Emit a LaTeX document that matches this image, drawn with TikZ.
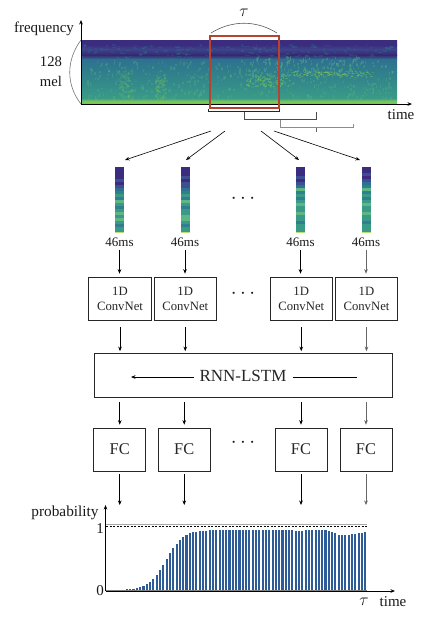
\documentclass[tikz,border=0pt]{standalone}
\usepackage{fontspec}
\setmainfont{Liberation Serif}
\usetikzlibrary{arrows.meta}
\definecolor{vp}{HTML}{3B2C7F}
\definecolor{vb}{HTML}{3D4F90}
\definecolor{vt}{HTML}{2F7F8C}
\definecolor{vg}{HTML}{3A9A88}
\definecolor{vl}{HTML}{5FB583}
\definecolor{vy}{HTML}{BCDC78}
\definecolor{tb}{HTML}{2E7090}
\definecolor{brt}{HTML}{78C655}
\definecolor{redbox}{HTML}{B5432F}
\definecolor{barc}{HTML}{2E5C99}
\newcommand{\fs}[1]{\fontsize{#1}{#1}\selectfont}
\tikzset{
  x=1pt,y=-1pt,
  arr/.style={-{Stealth[length=4.5pt,width=3.6pt]},line width=0.6pt,black},
  arrg/.style={arr,black!60},
  netbox/.style={draw,line width=0.7pt,black!85,inner sep=0pt,text=black!85,align=center},
  conv/.style={netbox,minimum width=62.5pt,minimum height=43.5pt,font=\fs{12.7}},
  fcbox/.style={netbox,minimum width=52pt,minimum height=43pt,font=\fs{16.4}},
  lab/.style={inner sep=0pt,text=black!90},
  ms/.style={lab,font=\fs{13}},
  dots/.style={lab,font=\fs{20}},
  stripcell/.style={minimum width=9pt,minimum height=66pt,inner sep=0pt},
}
\newcommand{\strip}[3]{% x, name, colours
  \node[stripcell] (#2) at (#1,200) {};
  \foreach \c [count=\i from 0] in {#3} {
    \fill[\c] (#1-4.5,167+3*\i) rectangle (#1+4.5,170.3+3*\i);
  }
}
\begin{document}
\begin{tikzpicture}
\useasboundingbox (0,0) rectangle (439,625);
\fill[white] (0,0) rectangle (439,625);

% spectrogram
\shade[top color=vp,bottom color=vp] (81,40) rectangle (397,45.2);
\shade[top color=vp,bottom color=vb!70!vp] (81,45) rectangle (397,49.2);
\shade[top color=vb!70!vp,bottom color=vp!90!black] (81,49) rectangle (397,55.2);
\shade[top color=vp!90!black,bottom color=tb] (81,55) rectangle (397,59.2);
\shade[top color=tb,bottom color=vt] (81,59) rectangle (397,72.2);
\shade[top color=vt,bottom color=vg] (81,72) rectangle (397,98.2);
\shade[top color=vg,bottom color=brt] (81,98) rectangle (397,101.2);
\fill[brt] (81,101) rectangle (397,104);
\pgfmathsetseed{11}
\foreach \n in {1,...,170} {
  \pgfmathsetmacro{\xa}{81+rnd*312}
  \pgfmathsetmacro{\ya}{44+rnd*14}
  \fill[vt,opacity=0.25] (\xa,\ya) rectangle ++(1.5+rnd*3,1.5);
}
\foreach \n in {1,...,420} {
  \pgfmathsetmacro{\xa}{84+rnd*309}
  \pgfmathsetmacro{\ya}{60+rnd*38}
  \fill[vl,opacity=0.28] (\xa,\ya) rectangle ++(1.5,1.5+rnd*2);
}
\foreach \n in {1,...,70} {
  \pgfmathsetmacro{\xa}{118+rnd*14}
  \pgfmathsetmacro{\ya}{70+rnd*28}
  \fill[brt,opacity=0.18] (\xa,\ya) rectangle ++(2,2);
  \pgfmathsetmacro{\xb}{155+rnd*10}
  \pgfmathsetmacro{\yb}{74+rnd*24}
  \fill[brt,opacity=0.18] (\xb,\yb) rectangle ++(2,2);
}
\foreach \n in {1,...,130} {
  \pgfmathsetmacro{\xa}{248+rnd*115}
  \pgfmathsetmacro{\ya}{56+rnd*18}
  \fill[vl,opacity=0.35] (\xa,\ya) rectangle ++(1.5,1.5+rnd*2);
  \pgfmathsetmacro{\xb}{245+rnd*45}
  \pgfmathsetmacro{\yb}{74+rnd*12}
  \fill[brt,opacity=0.35] (\xb,\yb) rectangle ++(1.5,1.5);
  \pgfmathsetmacro{\xc}{292+rnd*80}
  \pgfmathsetmacro{\yc}{71+rnd*6}
  \fill[brt!70!yellow,opacity=0.25] (\xc,\yc) rectangle ++(2,1);
}

% axes of the spectrogram
\coordinate (sorig) at (81,104);
\coordinate (sy) at (81,20);
\coordinate (sx) at (412,104);
\draw[arr,line width=0.9pt] (sorig) -- (sy);
\draw[arr,line width=0.9pt] (sorig) -- (sx);
\node[lab,font=\fs{15}] (freq) at (44,29) {frequency};
\node[lab,font=\fs{14.7}] (n128) at (51,62) {128};
\node[lab,font=\fs{14.7}] (mel) at (51,81) {mel};
\node[lab,font=\fs{15}] (time1) at (401,115) {time};
\coordinate (pa) at (81,40);
\draw[black!55,line width=0.6pt] (pa) .. controls (66,60) and (66,85) .. (sorig);

% window
\node[draw=redbox,line width=2pt,minimum width=69.5pt,minimum height=72pt,inner sep=0pt] (win) at (244.25,72) {};
\node[lab,font=\fs{17}] (tau1) at (244,13) {$\tau$};
\coordinate (ta) at (211,33);
\coordinate (tb) at (277,33);
\draw[black!65,line width=0.6pt] (ta) .. controls (232,20) and (256,20) .. (tb);

% hop brackets
\coordinate (b1a) at (208,109);
\coordinate (b1b) at (279,109);
\draw[black!85,line width=0.6pt] (b1a) -- ++(0,2.5) -- (279,111.5) -- (b1b);
\coordinate (b2a) at (244,112);
\coordinate (b2b) at (316,112);
\draw[black!70,line width=0.6pt] (b2a) -- (244,119.5) -- (316,119.5) -- (b2b);
\coordinate (b3a) at (280,120);
\coordinate (b3b) at (353,124);
\draw[black!45,line width=0.6pt] (b3a) -- (280,127.5) -- (353,127.5) -- (b3b);
\coordinate (b3c) at (316,127.5);
\draw[black!60,line width=0.6pt] (b3c) -- ++(0,4);

% fan-out arrows
\coordinate (fa) at (211,131); \coordinate (fA) at (125,160);
\coordinate (fb) at (225,131); \coordinate (fB) at (186,160);
\coordinate (fc) at (261,131); \coordinate (fC) at (299,160);
\coordinate (fd) at (274,131); \coordinate (fD) at (360,160);
\draw[arr] (fa) -- (fA);
\draw[arr] (fb) -- (fB);
\draw[arr] (fc) -- (fC);
\draw[arr] (fd) -- (fD);

% spectrogram slices
\strip{119.5}{s1}{vp,vp,vp,vp,vb,vp,vb,tb,vt,vg,vt,vl,vg,vt,vg,vl,vg,vl,vg,vt,vg,vg}
\strip{185}{s2}{vp,vp,vp,vb,vp,vb,vb,tb,vt,vg,vt,vl,vg,vt,vg,vg,vl,vl,vg,vt,vg,vg}
\strip{300.5}{s3}{vp,vp,vp,vb,vp,vb,tb,vl,vt,vg,vt,vg,vl,vg,vg,vl,vg,vg,vt,vg,vg,vg}
\strip{366}{s4}{vp,vp,vb,vp,vb,tb,vt,vl,vt,vg,vt,vg,vl,vg,vg,vl,vg,vg,vt,vg,vg,vg}
\foreach \xx in {119.5,185,300.5,366} { \fill[vy] (\xx-4.5,231.5) rectangle (\xx+4.5,233); }

\node[ms] (m1) at (119.5,242) {46ms};
\node[ms] (m2) at (185,242) {46ms};
\node[ms] (m3) at (300.5,242) {46ms};
\node[ms] (m4) at (366,242) {46ms};
\node[dots] (d1) at (243,199) {$\cdots$};

% ConvNets
\node[conv] (c1) at (120,298.75) {1D\\[3pt]ConvNet};
\node[conv] (c2) at (185.25,298.75) {1D\\[3pt]ConvNet};
\node[conv] (c3) at (301.25,298.75) {1D\\[3pt]ConvNet};
\node[conv] (c4) at (366.5,298.75) {1D\\[3pt]ConvNet};
\node[dots] (d2) at (243,294) {$\cdots$};

% RNN
\node[netbox,minimum width=297.5pt,minimum height=44pt,font=\fs{17}] (rnn) at (243.25,375.5) {};
\node[lab,font=\fs{17},text=black!85] (rnnt) at (243,376) {RNN-LSTM};
\coordinate (rl) at (131,377);
\coordinate (rr) at (357,377);
\draw[arr] (rnnt.west |- rl) ++(-5,0) -- (rl);
\draw[line width=0.6pt] (rnnt.east |- rr) ++(6,0) -- (rr);

% FC
\node[fcbox] (f1) at (119.75,449.5) {FC};
\node[fcbox] (f2) at (184.25,449.5) {FC};
\node[fcbox] (f3) at (301,449.5) {FC};
\node[fcbox] (f4) at (366,449.5) {FC};
\node[dots] (d3) at (243,443) {$\cdots$};

% vertical connectors
\foreach \k/\st in {1/arr,2/arr,3/arr,4/arrg} {
  \draw[\st,shorten <=3pt,shorten >=3pt] (m\k.south) -- (m\k.south |- c\k.north);
  \draw[\st,shorten <=6pt,shorten >=2pt] (c\k.south) -- (c\k.south |- rnn.north);
  \draw[\st,shorten <=4pt,shorten >=3pt] (rnn.south -| f\k.north) -- (f\k.north);
}
\coordinate (p1) at (119.75,505);
\coordinate (p2) at (184.25,505);
\coordinate (p3) at (301,505);
\coordinate (p4) at (366,505);
\foreach \k/\st in {1/arr,2/arr,3/arr,4/arrg} {
  \draw[\st,shorten <=3pt] (f\k.south) -- (p\k);
}

% probability plot
\foreach \i in {0,...,78} {
  \pgfmathsetmacro{\xa}{106+3.31*\i}
  \pgfmathsetmacro{\ff}{1/(1+exp(-(\xa-165)/8.5))}
  \pgfmathsetmacro{\dip}{\xa>310 ? (\xa<342 ? 5.5*exp(-((\xa-342)/11)^2) : 5.5-3.4*(\xa-342)/25) : (\xa>285 ? 1*exp(-((\xa-298)/5)^2) : 0)}
  \pgfmathsetmacro{\top}{590-60*\ff+\dip}
  \fill[barc] (\xa,590) rectangle (\xa+2.1,\top);
}
\coordinate (porig) at (105.5,591);
\coordinate (py) at (105.5,505);
\coordinate (px) at (395,591);
\draw[black!50,line width=0.6pt] (106,590) -- (367,590);
\draw[arr,line width=0.8pt] (porig) -- (py);
\draw[arr,line width=0.8pt] (porig) -- (px);
\coordinate (da) at (106,526);
\coordinate (db) at (367,526);
\draw[black,dashed,line width=0.6pt,dash pattern=on 2pt off 1.5pt] (da) -- (db);
\draw[black!35,line width=0.5pt] (106,524.5) -- (367,524.5);
\node[lab,font=\fs{15.3}] (prob) at (65,512.5) {probability};
\node[lab,font=\fs{15}] (one) at (100,529) {1};
\node[lab,font=\fs{15}] (zero) at (100,591) {0};
\node[lab,font=\fs{17}] (tau2) at (364,602) {$\tau$};
\node[lab,font=\fs{15}] (time2) at (393,602) {time};
\end{tikzpicture}
\end{document}
